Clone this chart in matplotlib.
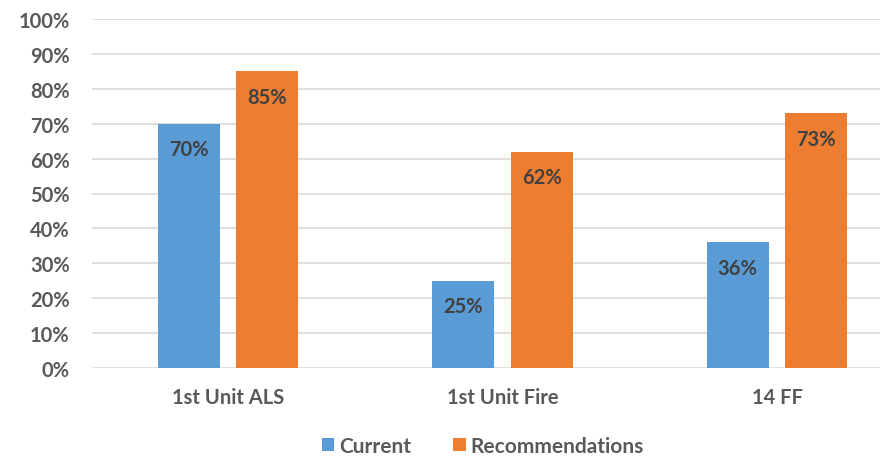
import numpy as np
import matplotlib.pyplot as plt
from matplotlib.ticker import PercentFormatter

categories = ['1st Unit ALS', '1st Unit Fire', '14 FF']
current = [70, 25, 36]
recommendations = [85, 62, 73]

plt.rcParams['font.family'] = ['Lato', 'DejaVu Sans']
plt.rcParams['font.weight'] = 'bold'

fig = plt.figure(figsize=(8.86, 4.6), dpi=100)
ax = fig.add_axes([92/886, 91/460, 788/886, 349/460])

x = np.arange(len(categories))
w = 0.226
off = 0.143
b1 = ax.bar(x - off, current, w, color='#5B9BD5', label='Current', zorder=3)
b2 = ax.bar(x + off, recommendations, w, color='#ED7D31', label='Recommendations', zorder=3)

# value labels just inside the top of each bar
for bars in (b1, b2):
    for r in bars:
        ax.text(r.get_x() + r.get_width() / 2, r.get_height() - 4.5, f'{r.get_height():.0f}%',
                ha='center', va='top', fontsize=14.5, color='#404040', fontweight='bold')

ax.set_ylim(0, 100)
ax.set_xlim(-0.495, 2.375)
ax.set_yticks(np.arange(0, 101, 10))
ax.yaxis.set_major_formatter(PercentFormatter(decimals=0))
ax.set_xticks(x)
ax.set_xticklabels(categories, fontsize=14.5)
ax.grid(axis='y', color='#d9d9d9', linewidth=1.2, zorder=0)
for s in ax.spines.values():
    s.set_visible(False)
ax.tick_params(axis='both', length=0, labelcolor='#595959')
ax.tick_params(axis='y', labelsize=14.5, pad=16)
ax.tick_params(axis='x', pad=14)

fig.legend(loc='center', bbox_to_anchor=(0.545, 0.028), ncol=2, frameon=False,
           fontsize=15, handlelength=0.6, handleheight=0.6, handletextpad=0.25,
           columnspacing=2.0, labelcolor='#595959', borderpad=0.1)

fig.savefig('out.png', dpi=100)
